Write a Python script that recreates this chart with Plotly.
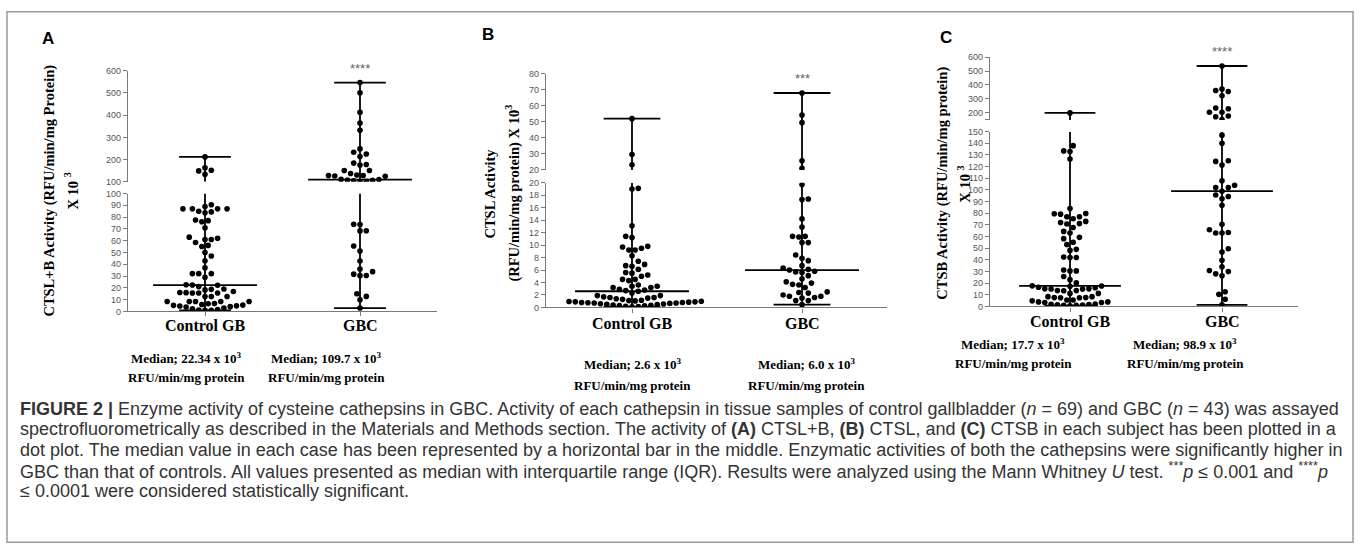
import numpy as np
import plotly.graph_objects as go

W, H = 1360, 554

# ---------------- data ----------------
categories = ["Control GB", "GBC"]

a_control = [212, 163, 152, 149, 134,
             90.5, 89, 87, 87, 87, 87, 85, 84.4, 83.6,
             77.5, 77, 76, 71,
             63, 62, 61, 61, 58.5, 56, 55,
             50, 47, 43, 37, 32, 32, 32, 29,
             22.6, 22.34, 22.1,
             21, 19.0, 18.7, 18.2, 16.8, 16.0, 15.9, 15.6, 15.6, 15.6,
             12.6, 12.6, 12.6, 8.4, 8.4, 8.4, 8.4, 8.4,
             6.6, 6.4, 5.8, 5.3, 5.1, 4.7, 4.5, 4.0, 3.6, 2.8, 2.2, 1.5, 1.2, 1.0, 0.8]
a_gbc = [547, 501, 413, 365, 332, 248, 233, 225, 214, 184, 178, 175, 151, 151, 137,
         130, 128, 128, 126, 125, 110.5, 109.7, 108, 106, 104, 102, 101,
         73.9, 73.7, 68.4, 68.3, 55.5, 51.2, 42.8, 35.9, 33.7, 31.6, 30.4, 30.3,
         14.9, 12.7, 9.9, 2.8]
a_medians = [22.34, 109.7]

b_control = [52, 29.6, 23.2, 19.1, 19.0, 13.1, 11.4, 11.2, 9.8, 9.7, 9.5, 9.2, 9.2,
             8.3, 7.4, 6.9, 6.7, 6.6, 6.1, 5.6, 5.5, 5.2, 5.0, 4.5, 4.5, 4.3, 3.6,
             3.4, 3.4, 3.2, 3.2, 2.9, 2.8, 2.7,
             2.6,
             2.3, 1.9, 1.9, 1.7, 1.6, 1.6, 1.5, 1.4, 1.3,
             1.15, 1.1, 1.05, 1.0, 0.95, 0.9, 0.9, 0.85, 0.8, 0.8, 0.75, 0.7, 0.7,
             0.65, 0.6, 0.55, 0.5, 0.45, 0.4, 0.35, 0.3, 0.25, 0.2, 0.15, 0.1]
b_gbc = [68, 54.2, 49.5, 25.7, 21, 19.7, 17.4, 17.3, 14.2, 12.9, 11.4, 11.4, 11.3,
         10.4, 10.4, 8.4, 7.9, 7.5, 6.7, 6.3, 6.1,
         6.0,
         5.8, 5.7, 5.6, 5.1, 4.6, 4.1, 3.9, 3.7, 3.6, 3.2, 2.5, 2.4, 2.3, 2.0,
         1.8, 1.8, 1.6, 1.5, 1.1, 1.1, 0.45]
b_medians = [2.6, 6.0]

c_control = [200, 138, 133.5, 133, 126.5, 84, 79.8, 79.5, 79.2, 77, 77, 75.3,
             73, 72, 71.1, 70.8, 67.7, 64.4, 63, 59.3, 58.2, 55.1, 53.2, 49, 48.1,
             42.5, 42, 42, 31.3, 30.5, 30.5, 25.7, 23, 20.2,
             17.7,
             17.5, 17.4, 16.5, 16.0, 15.1, 15.1, 15.0, 14.9, 13.7, 13.6, 13.5,
             11.2, 11.2, 8.4, 8.4, 7.6, 7.6, 7.5, 7.5,
             5.6, 5.6, 4.8, 3.9, 3.9, 3.4, 3.4, 2.0, 1.9, 1.7, 1.4, 1.3, 1.0, 1.0, 0.6]
c_gbc = [536, 371, 360, 353, 322, 235, 230, 205, 205, 177, 172, 153,
         147, 140, 125, 124.5, 121.4, 107.8, 104, 102, 102,
         98.9,
         95.7, 94.3, 92.4, 86.8, 70.5, 65.8, 63.5, 63, 63, 49.5, 46.7, 39.7, 34.1,
         30.8, 29.9, 28, 26.3, 12.6, 10.4, 6.2, 1.4]
c_medians = [17.7, 98.9]

a_low_ticks = list(range(0, 101, 10))
a_up_ticks = [100, 200, 300, 400, 500, 600]
b_low_ticks = list(range(0, 21, 2))
b_up_ticks = [20, 30, 40, 50, 60, 70, 80]
c_low_ticks = list(range(0, 151, 10))
c_up_ticks = [150, 200, 300, 400, 500, 600]

stars = ["****", "***", "****"]
y_titles = [("CTSL+B Activity (RFU/min/mg Protein)", "X 10 <sup>3</sup>"),
            ("CTSL Activity", "(RFU/min/mg protein) X 10<sup>3</sup>"),
            ("CTSB Activity (RFU/min/mg protein)", "X 10 <sup>3</sup>")]
median_labels = [["Median; 22.34 x 10<sup>3</sup>", "Median; 109.7 x 10<sup>3</sup>"],
                 ["Median; 2.6 x 10<sup>3</sup>", "Median; 6.0 x 10<sup>3</sup>"],
                 ["Median; 17.7 x 10<sup>3</sup>", "Median; 98.9 x 10<sup>3</sup>"]]
unit_label = "RFU/min/mg protein"
caption_lines = [
    "<b>FIGURE 2 |</b> Enzyme activity of cysteine cathepsins in GBC. Activity of each cathepsin in tissue samples of control gallbladder (<i>n</i> = 69) and GBC (<i>n</i> = 43) was assayed",
    "spectrofluorometrically as described in the Materials and Methods section. The activity of <b>(A)</b> CTSL+B, <b>(B)</b> CTSL, and <b>(C)</b> CTSB in each subject has been plotted in a",
    "dot plot. The median value in each case has been represented by a horizontal bar in the middle. Enzymatic activities of both the cathepsins were significantly higher in",
    "GBC than that of controls. All values presented as median with interquartile range (IQR). Results were analyzed using the Mann Whitney <i>U</i> test. <sup>***</sup><i>p</i> ≤ 0.001 and <sup>****</sup><i>p</i>",
    "≤ 0.0001 were considered statistically significant.",
]

# ---------------- layout geometry (pixels) ----------------
panels = [
    dict(letter="A", data=[a_control, a_gbc], med=a_medians,
         xpx=(128, 437), cat_px=(205, 360),
         low=dict(px=(312, 192), rng=(0, 100), ticks=a_low_ticks),
         up=dict(px=(180, 67), rng=(100, 600), ticks=a_up_ticks),
         letter_pos=(48, 34), title_x=(50, 71), title_y=(189, 190),
         star_y=65, cat_y=326, med_y=(359, 379), med_x=(186, 326)),
    dict(letter="B", data=[b_control, b_gbc], med=b_medians,
         xpx=(546, 887), cat_px=(632, 802),
         low=dict(px=(308, 181), rng=(0, 20), ticks=b_low_ticks),
         up=dict(px=(168, 70), rng=(20, 80), ticks=b_up_ticks),
         letter_pos=(488, 30), title_x=(490, 513), title_y=(192, 192),
         star_y=75, cat_y=324, med_y=(366, 387), med_x=(632, 806)),
    dict(letter="C", data=[c_control, c_gbc], med=c_medians,
         xpx=(990, 1298), cat_px=(1070, 1222),
         low=dict(px=(307, 129), rng=(0, 150), ticks=c_low_ticks),
         up=dict(px=(117, 53), rng=(150, 600), ticks=c_up_ticks),
         letter_pos=(946, 33), title_x=(943, 964), title_y=(182, 183),
         star_y=47, cat_y=322, med_y=(345, 365), med_x=(1013, 1185)),
]

fig = go.Figure()
layout = dict(width=W, height=H, margin=dict(l=0, r=0, t=0, b=0),
              paper_bgcolor="white", plot_bgcolor="rgba(0,0,0,0)",
              showlegend=False, annotations=[], shapes=[])

AX_COLOR = "#7a7a7a"
TICK_FONT = dict(family="Liberation Sans, Arial", size=9, color="#555555")
SERIF = "Liberation Serif, Times New Roman"


def fx(px):
    return px / W


def fy(py):
    return 1 - py / H


def seg_px(seg, v):
    (p0, p1), (r0, r1) = seg["px"], seg["rng"]
    return p0 + (v - r0) / (r1 - r0) * (p1 - p0)


def swarm(values, low, up, ppu, d=6.3, step=3.15):
    """Beeswarm layout: horizontal offsets (data units) avoiding overlap."""
    ys = [seg_px(up, v) if v > low["rng"][1] else seg_px(low, v) for v in values]
    order = np.argsort(values)
    placed = []
    offs = np.zeros(len(values))
    flip = 1
    for i in order:
        y = ys[i]
        k = 0
        chosen = None
        while chosen is None:
            cands = [0.0] if k == 0 else [flip * k * step, -flip * k * step]
            for c in cands:
                if all((c - px) ** 2 + (y - py) ** 2 >= d * d for px, py in placed):
                    chosen = c
                    break
            k += 1
        if chosen != 0:
            flip = -flip
        placed.append((chosen, y))
        offs[i] = chosen / ppu
    return offs


def txt(text, x, y, size, family=SERIF, color="black", xref="paper", angle=0,
        xanchor="center", yanchor="middle"):
    return dict(text=text, x=x, y=y, xref=xref, yref="paper", showarrow=False,
                textangle=angle, xanchor=xanchor, yanchor=yanchor,
                font=dict(family=family, size=size, color=color))


for pi, p in enumerate(panels):
    n = pi + 1
    xa = "x" if n == 1 else f"x{n}"
    ylow_i, yup_i = 2 * pi + 1, 2 * pi + 2
    ylow = "y" if ylow_i == 1 else f"y{ylow_i}"
    yup = f"y{yup_i}"
    ppu = p["cat_px"][1] - p["cat_px"][0]
    x0 = (p["xpx"][0] - p["cat_px"][0]) / ppu
    x1 = (p["xpx"][1] - p["cat_px"][0]) / ppu
    low, up = p["low"], p["up"]
    brk = low["rng"][1]

    layout["xaxis" if n == 1 else f"xaxis{n}"] = dict(
        domain=[fx(p["xpx"][0]), fx(p["xpx"][1])], range=[x0, x1],
        anchor=ylow, showgrid=False, zeroline=False, showline=True,
        linecolor=AX_COLOR, linewidth=1.2, ticks="outside", ticklen=4,
        tickcolor=AX_COLOR, tickvals=[0, 1], showticklabels=False)
    layout["yaxis" if ylow_i == 1 else f"yaxis{ylow_i}"] = dict(
        domain=[fy(low["px"][0]), fy(low["px"][1])], range=list(low["rng"]),
        anchor=xa, showgrid=False, zeroline=False, showline=True,
        linecolor=AX_COLOR, linewidth=1.2, ticks="outside", ticklen=4,
        tickcolor=AX_COLOR, tickvals=low["ticks"], tickfont=TICK_FONT)
    up_text = ["" if (pi == 2 and t == 150) else str(t) for t in up["ticks"]]
    layout[f"yaxis{yup_i}"] = dict(
        domain=[fy(up["px"][0]), fy(up["px"][1])], range=list(up["rng"]),
        anchor=xa, showgrid=False, zeroline=False, showline=True,
        linecolor=AX_COLOR, linewidth=1.2, ticks="outside", ticklen=4,
        tickcolor=AX_COLOR, tickvals=up["ticks"], ticktext=up_text,
        tickfont=TICK_FONT)

    line_style = dict(color="black", width=1.8)
    for ci, vals in enumerate(p["data"]):
        vals = np.array(vals, dtype=float)
        offs = swarm(vals, low, up, ppu)
        xs = ci + offs
        m_low = vals <= brk
        vmin, vmax = vals.min(), vals.max()
        fig.add_trace(go.Scatter(x=[ci, ci], y=[vmin, min(vmax, brk)], xaxis=xa, yaxis=ylow,
                                 mode="lines", line=line_style, hoverinfo="skip"))
        if vmax > brk:
            fig.add_trace(go.Scatter(x=[ci, ci], y=[max(vmin, brk), vmax], xaxis=xa, yaxis=yup,
                                     mode="lines", line=line_style, hoverinfo="skip"))
        for v, hw in [(vmin, 0.167), (vmax, 0.167), (p["med"][ci], 0.335)]:
            fig.add_trace(go.Scatter(x=[ci - hw, ci + hw], y=[v, v], xaxis=xa,
                                     yaxis=(yup if v > brk else ylow), mode="lines",
                                     line=line_style, hoverinfo="skip"))
        fig.add_trace(go.Scatter(x=xs[m_low], y=vals[m_low], xaxis=xa, yaxis=ylow,
                                 mode="markers", marker=dict(size=5.6, color="black"),
                                 name=categories[ci]))
        fig.add_trace(go.Scatter(x=xs[~m_low], y=vals[~m_low], xaxis=xa, yaxis=yup,
                                 mode="markers", marker=dict(size=5.6, color="black"),
                                 name=categories[ci]))

    ann = layout["annotations"]
    ann.append(txt(f"<b>{p['letter']}</b>", fx(p["letter_pos"][0]), fy(p["letter_pos"][1]),
                   17, family="Liberation Sans, Arial"))
    t1, t2 = y_titles[pi]
    ann.append(txt(f"<b>{t1}</b>", fx(p["title_x"][0]), fy(p["title_y"][0]), 14.5, angle=-90))
    ann.append(txt(f"<b>{t2}</b>", fx(p["title_x"][1]), fy(p["title_y"][1]), 14.5, angle=-90))
    ann.append(txt(stars[pi], 1, fy(p["star_y"]), 13, family="Liberation Sans, Arial",
                   color="#666666", xref=xa))
    for ci, cat in enumerate(categories):
        ann.append(txt(f"<b>{cat}</b>", ci, fy(p["cat_y"]), 16, xref=xa))
        ann.append(txt(f"<b>{median_labels[pi][ci]}</b>", fx(p["med_x"][ci]),
                       fy(p["med_y"][0]), 13))
        ann.append(txt(f"<b>{unit_label}</b>", fx(p["med_x"][ci]), fy(p["med_y"][1]), 13))

for li, line in enumerate(caption_lines):
    layout["annotations"].append(txt(line, fx(18), fy(411 + 21 * li), 18,
                                     family="Liberation Sans, Arial", color="#333333",
                                     xanchor="left"))

layout["shapes"].append(dict(type="rect", xref="paper", yref="paper",
                             x0=fx(7), x1=fx(1353), y0=fy(547), y1=fy(7),
                             line=dict(color="#9a9a9a", width=1.5)))

fig.update_layout(**layout)
fig.write_html("out.html")
